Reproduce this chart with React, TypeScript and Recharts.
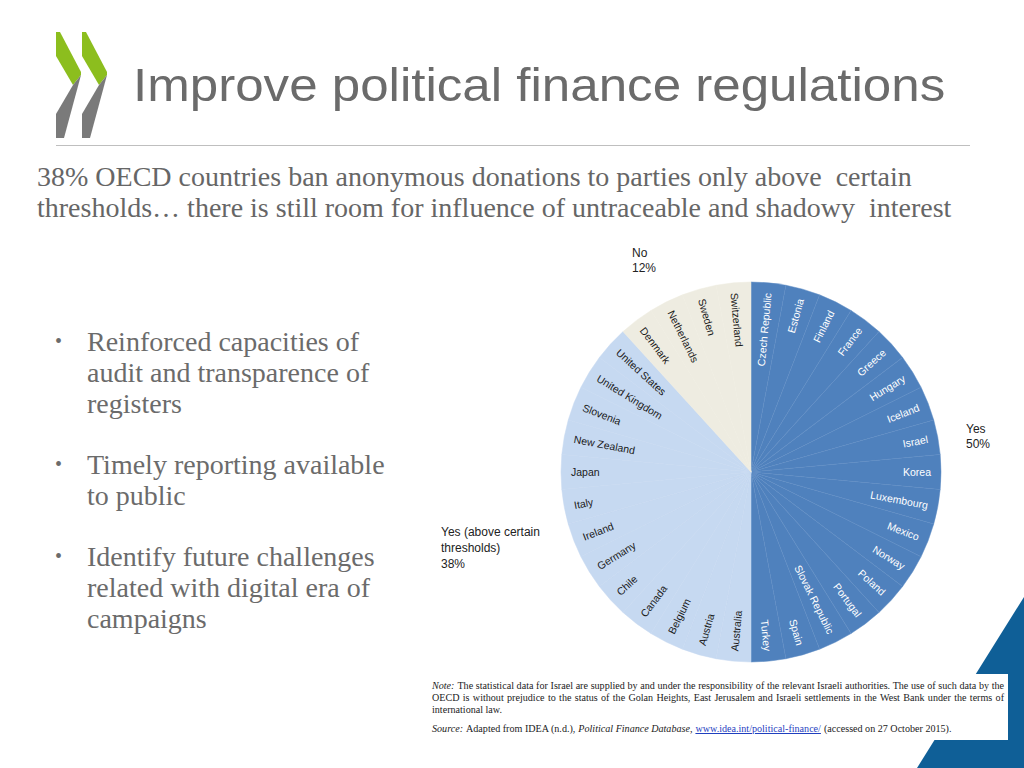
import React from "react";
import { PieChart, Pie, Cell } from "recharts";

// ---- data ----
const yesCountries = [
  "Czech Republic", "Estonia", "Finland", "France", "Greece", "Hungary", "Iceland",
  "Israel", "Korea", "Luxembourg", "Mexico", "Norway", "Poland", "Portugal",
  "Slovak Republic", "Spain", "Turkey",
];
const thresholdCountries = [
  "Australia", "Austria", "Belgium", "Canada", "Chile", "Germany", "Ireland",
  "Italy", "Japan", "New Zealand", "Slovenia", "United Kingdom", "United States",
];
const noCountries = ["Denmark", "Netherlands", "Sweden", "Switzerland"];

const groupNames = ["Yes", "Yes (above certain thresholds)", "No"];
const groupColors = ["#4f81bd", "#c6d9f1", "#eeece1"];
const groupStrokes = ["#5f8dc5", "#c6d9f1", "#eeece1"];
const groupTextColors = ["#ffffff", "#1a1a1a", "#1a1a1a"];

const groups = [yesCountries, thresholdCountries, noCountries];
const pieData = groups.flatMap((list, g) =>
  list.map((name) => ({ name, value: 1, group: g }))
);
const total = pieData.length;
const pct = (g: number) => Math.round((groups[g].length / total) * 100) + "%";

const RAD = Math.PI / 180;

const renderLabel = (props: any) => {
  const { cx, cy, midAngle, outerRadius, name, payload } = props;
  const g = payload?.group ?? props.group ?? 0;
  const r = outerRadius - 10;
  const x = cx + r * Math.cos(-midAngle * RAD);
  const y = cy + r * Math.sin(-midAngle * RAD);
  const right = Math.cos(-midAngle * RAD) >= 0;
  const rot = right ? -midAngle : 180 - midAngle;
  return (
    <text
      x={x}
      y={y}
      fill={groupTextColors[g]}
      fontSize={10.5}
      fontFamily="'Liberation Sans', Arial, sans-serif"
      textAnchor={right ? "end" : "start"}
      dominantBaseline="central"
      transform={`rotate(${rot} ${x} ${y})`}
    >
      {name}
    </text>
  );
};

const serif = "'Liberation Serif', 'Times New Roman', serif";
const sans = "'Liberation Sans', Arial, sans-serif";

const chevron = (dx: number) => (
  <g transform={`translate(${dx} 0)`}>
    <polygon points="56,32 60,32 81,72 81,75 73,85 56,56" fill="#8cbe1e" />
    <polygon points="73,85 81,75 64,138 56,138 56,114" fill="#7a7a7a" />
  </g>
);

const justified: React.CSSProperties = {
  flex: 1,
  textAlign: "justify",
  textAlignLast: "justify" as any,
  whiteSpace: "nowrap",
};

export default function App() {
  return (
    <div
      style={{
        position: "absolute",
        left: 0,
        top: 0,
        width: 1024,
        height: 768,
        background: "#ffffff",
        overflow: "hidden",
      }}
    >
      {/* logo */}
      <svg style={{ position: "absolute", left: 0, top: 0 }} width={130} height={150}>
        {chevron(0)}
        {chevron(26)}
      </svg>

      <div
        style={{
          position: "absolute",
          left: 133,
          top: 55,
          fontFamily: sans,
          fontSize: 47,
          color: "#6b6b6b",
          whiteSpace: "nowrap",
          lineHeight: "60px",
          transform: "scaleX(1.087)",
          transformOrigin: "0 0",
        }}
      >
        Improve political finance regulations
      </div>

      <div
        style={{
          position: "absolute",
          left: 56,
          top: 145,
          width: 914,
          height: 1,
          background: "#bfbfbf",
        }}
      />

      <div
        style={{
          position: "absolute",
          left: 37,
          top: 161,
          fontFamily: serif,
          fontSize: 28,
          lineHeight: "31px",
          color: "#666666",
          whiteSpace: "pre",
        }}
      >
        {"38% OECD countries ban anonymous donations to parties only above  certain\nthresholds… there is still room for influence of untraceable and shadowy  interest"}
      </div>

      {/* bullets */}
      {[
        ["Reinforced capacities of", "audit and transparence of", "registers"],
        ["Timely reporting available", "to public"],
        ["Identify future challenges", "related with digital era of", "campaigns"],
      ].map((lines, i) => (
        <div
          key={i}
          style={{
            position: "absolute",
            left: 55,
            top: [326, 449, 541][i],
            fontFamily: serif,
            fontSize: 28,
            lineHeight: "31px",
            color: "#6b6b6b",
            whiteSpace: "pre",
          }}
        >
          <span style={{ position: "absolute", left: 0, top: 0, fontSize: 20 }}>•</span>
          <div style={{ marginLeft: 32 }}>
            {lines.map((l, j) => (
              <div key={j}>{l}</div>
            ))}
          </div>
        </div>
      ))}

      {/* pie */}
      <div style={{ position: "absolute", left: 546, top: 267 }}>
        <PieChart width={400} height={400}>
          <Pie
            data={pieData}
            dataKey="value"
            nameKey="name"
            cx={200}
            cy={200}
            outerRadius={190}
            startAngle={90}
            endAngle={-270}
            isAnimationActive={false}
            labelLine={false}
            label={renderLabel}
          >
            {pieData.map((d, i) => (
              <Cell
                key={i}
                fill={groupColors[d.group]}
                stroke={groupStrokes[d.group]}
                strokeWidth={0.5}
              />
            ))}
          </Pie>
        </PieChart>
      </div>

      {/* group labels */}
      <div style={{ position: "absolute", left: 632, top: 246, fontFamily: sans, fontSize: 12, lineHeight: "15px", color: "#222" }}>
        <div>{groupNames[2]}</div>
        <div>{pct(2)}</div>
      </div>
      <div style={{ position: "absolute", left: 966, top: 422, fontFamily: sans, fontSize: 12, lineHeight: "15px", color: "#222" }}>
        <div>{groupNames[0]}</div>
        <div>{pct(0)}</div>
      </div>
      <div style={{ position: "absolute", left: 441, top: 524, fontFamily: sans, fontSize: 12, lineHeight: "16px", color: "#222" }}>
        <div>Yes (above certain</div>
        <div>thresholds)</div>
        <div>{pct(1)}</div>
      </div>

      {/* decorative shape */}
      <svg style={{ position: "absolute", left: 0, top: 0 }} width={1024} height={768}>
        <polygon points="1024,597 1024,768 917,768" fill="#0f5f97" />
      </svg>

      {/* footnote box */}
      <div
        style={{
          position: "absolute",
          left: 420,
          top: 674,
          width: 588,
          height: 66,
          background: "#ffffff",
        }}
      >
        <div
          style={{
            position: "absolute",
            left: 12,
            top: 6,
            width: 572,
            fontFamily: serif,
            fontSize: 10.1,
            lineHeight: "12px",
            color: "#222",
          }}
        >
          <div style={{ display: "flex" }}>
            <span style={{ fontStyle: "italic", marginRight: 3 }}>Note:</span>
            <span style={justified}>
              The statistical data for Israel are supplied by and under the responsibility of the relevant Israeli authorities. The use of such data by the
            </span>
          </div>
          <div style={{ display: "flex" }}>
            <span style={justified}>
              OECD is without prejudice to the status of the Golan Heights, East Jerusalem and Israeli settlements in the West Bank under the terms of
            </span>
          </div>
          <div>international law.</div>
          <div style={{ display: "flex", marginTop: 7, whiteSpace: "nowrap" }}>
            <span style={{ fontStyle: "italic", marginRight: 3 }}>Source:</span>
            <span style={{ marginRight: 3 }}>Adapted from IDEA (n.d.),</span>
            <span style={{ fontStyle: "italic", marginRight: 3 }}>Political Finance Database,</span>
            <span style={{ color: "#1f3fbf", textDecoration: "underline", marginRight: 3 }}>www.idea.int/political-finance/</span>
            <span>(accessed on 27 October 2015).</span>
          </div>
        </div>
      </div>
    </div>
  );
}
